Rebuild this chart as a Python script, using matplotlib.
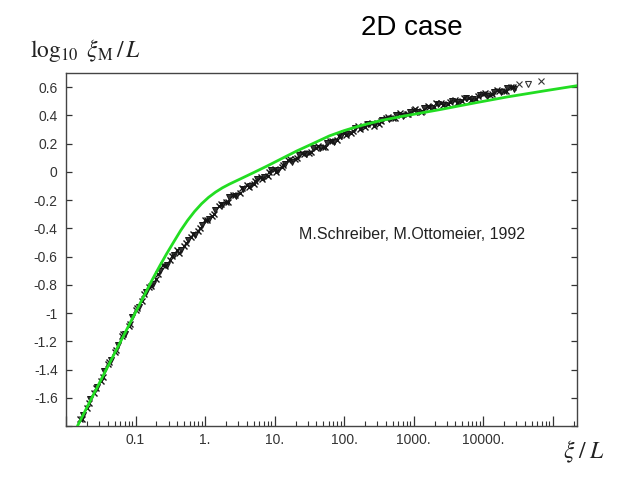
import numpy as np
import matplotlib
matplotlib.use("Agg")
import matplotlib.pyplot as plt
from matplotlib.ticker import FixedLocator, FixedFormatter, NullFormatter

# ---- data ----
# scatter series 1 ('x' markers): log10(xi/L) and log10(xi_M/L)
s1_log = [-1.8, -1.7, -1.6, -1.5, -1.4, -1.3, -1.2, -1.1, -1.0, -0.9, -0.8, -0.7, -0.6, -0.5,
          -0.4, -0.3, -0.2, -0.1, 0.0, 0.1, 0.2, 0.3, 0.4, 0.5, 0.6, 0.7, 0.8, 0.9, 1.0, 1.1,
          1.2, 1.3, 1.4, 1.5, 1.6, 1.7, 1.8, 1.9, 2.0, 2.1, 2.2, 2.3, 2.4, 2.5, 2.6, 2.7, 2.8,
          2.9, 3.0, 3.1, 3.2, 3.3, 3.4, 3.5, 3.6, 3.7, 3.8, 3.9, 4.0, 4.1, 4.2, 4.3, 4.4]
s1_y = [-1.748, -1.675, -1.564, -1.484, -1.36, -1.279, -1.166, -1.093, -0.978, -0.915, -0.814,
        -0.759, -0.66, -0.624, -0.556, -0.528, -0.458, -0.42, -0.344, -0.314, -0.24, -0.214,
        -0.161, -0.148, -0.093, -0.085, -0.039, -0.029, 0.02, 0.031, 0.084, 0.092, 0.132, 0.135,
        0.171, 0.176, 0.22, 0.226, 0.274, 0.277, 0.322, 0.315, 0.346, 0.341, 0.38, 0.381, 0.414,
        0.407, 0.436, 0.426, 0.465, 0.461, 0.489, 0.482, 0.512, 0.50, 0.526, 0.516, 0.55, 0.546,
        0.579, 0.572, 0.602]
# scatter series 2 (triangle markers)
s2_log = [-1.75, -1.65, -1.55, -1.45, -1.35, -1.25, -1.15, -1.05, -0.95, -0.85, -0.75, -0.65,
          -0.55, -0.45, -0.35, -0.25, -0.15, -0.05, 0.05, 0.15, 0.25, 0.35, 0.45, 0.55, 0.65,
          0.75, 0.85, 0.95, 1.05, 1.15, 1.25, 1.35, 1.45, 1.55, 1.65, 1.75, 1.85, 1.95, 2.05,
          2.15, 2.25, 2.35, 2.45, 2.55, 2.65, 2.75, 2.85, 2.95, 3.05, 3.15, 3.25, 3.35, 3.45,
          3.55, 3.65, 3.75, 3.85, 3.95, 4.05, 4.15, 4.25, 4.35, 4.45]
s2_y = [-1.725, -1.61, -1.526, -1.408, -1.333, -1.224, -1.145, -1.03, -0.954, -0.851, -0.793,
        -0.704, -0.657, -0.587, -0.551, -0.483, -0.45, -0.376, -0.337, -0.267, -0.236, -0.18,
        -0.168, -0.118, -0.102, -0.052, -0.036, 0.01, 0.013, 0.057, 0.073, 0.118, 0.127, 0.167,
        0.168, 0.204, 0.208, 0.253, 0.267, 0.31, 0.308, 0.337, 0.336, 0.37, 0.372, 0.405, 0.398,
        0.427, 0.423, 0.455, 0.454, 0.482, 0.473, 0.50, 0.493, 0.523, 0.519, 0.547, 0.535, 0.566,
        0.567, 0.597, 0.586]
# scatter series 3 ('x' markers, in between)
s3_log = [-1.775, -1.675, -1.575, -1.475, -1.375, -1.275, -1.175, -1.075, -0.975, -0.875,
          -0.775, -0.675, -0.575, -0.475, -0.375, -0.275, -0.175, -0.075, 0.025, 0.125, 0.225,
          0.325, 0.425, 0.525, 0.625, 0.725, 0.825, 0.925, 1.025, 1.125, 1.225, 1.325, 1.425,
          1.525, 1.625, 1.725, 1.825, 1.925, 2.025, 2.125, 2.225, 2.325, 2.425, 2.525, 2.625,
          2.725, 2.825, 2.925, 3.025, 3.125, 3.225, 3.325, 3.425, 3.525, 3.625, 3.725, 3.825,
          3.925, 4.025, 4.125, 4.225, 4.325, 4.425]
s3_y = [-1.752, -1.637, -1.529, -1.451, -1.346, -1.263, -1.146, -1.077, -0.965, -0.868, -0.807,
        -0.726, -0.67, -0.598, -0.574, -0.504, -0.439, -0.401, -0.338, -0.30, -0.23, -0.217,
        -0.162, -0.115, -0.104, -0.068, -0.05, 0.001, 0.0, 0.048, 0.094, 0.099, 0.126, 0.138,
        0.181, 0.179, 0.219, 0.254, 0.26, 0.291, 0.302, 0.339, 0.328, 0.363, 0.39, 0.383, 0.404,
        0.407, 0.443, 0.428, 0.462, 0.484, 0.473, 0.493, 0.491, 0.523, 0.507, 0.537, 0.559,
        0.548, 0.569, 0.571, 0.604]
# sparse last points
tail_x_log = [4.52, 4.83]
tail_x_y = [0.62, 0.64]
tail_v_log = [4.65]
tail_v_y = [0.62]

# green fit curve
fit_log = [-1.835, -1.4, -1.0, -0.755, -0.65, -0.55, -0.45, -0.35, -0.25, -0.15, -0.05, 0.05,
           0.15, 0.25, 0.35, 0.5, 0.7, 0.9, 1.1, 1.32, 1.55, 1.79, 2.0, 2.22, 2.5, 2.8, 3.37,
           3.9, 4.34, 4.9, 5.35]
fit_y = [-1.80, -1.38, -0.995, -0.76, -0.665, -0.578, -0.496, -0.415, -0.343, -0.28, -0.226,
         -0.181, -0.144, -0.113, -0.087, -0.052, -0.005, 0.043, 0.093, 0.148, 0.20, 0.255, 0.292,
         0.325, 0.36, 0.39, 0.44, 0.49, 0.53, 0.575, 0.61]

xmajor = [0.01, 0.1, 1, 10, 100, 1000, 10000, 100000]
xmajor_labels = ['', '0.1', '1.', '10.', '100.', '1000.', '10000.', '']
yticks = [0.6, 0.4, 0.2, 0.0, -0.2, -0.4, -0.6, -0.8, -1.0, -1.2, -1.4, -1.6, -1.8]
ytick_labels = ['0.6', '0.4', '0.2', '0', '-0.2', '-0.4', '-0.6', '-0.8', '-1', '-1.2', '-1.4',
                '-1.6', '']

plt.rcParams['font.family'] = ['Liberation Sans', 'DejaVu Sans']
plt.rcParams['mathtext.fontset'] = 'stix'

fig = plt.figure(figsize=(6.4, 4.8), dpi=100)
ax = fig.add_axes([66 / 640, 1 - 426 / 480, (577 - 66) / 640, (426 - 73) / 480])

ax.set_xscale('log')
ax.set_xlim(10 ** -2.0, 10 ** 5.35)
ax.set_ylim(-1.8, 0.7)

ink = '#333333'
dot = '#151515'
ax.plot(np.power(10.0, s1_log), s1_y, linestyle='none', marker='x', ms=4.5, mew=1.0, color=dot)
ax.plot(np.power(10.0, s2_log), s2_y, linestyle='none', marker='v', ms=4, mew=0.7,
        color=dot, mfc='#333333')
ax.plot(np.power(10.0, s3_log), s3_y, linestyle='none', marker='x', ms=4, mew=1.0, color=dot)
ax.plot(np.power(10.0, tail_x_log), tail_x_y, linestyle='none', marker='x', ms=5, mew=0.8,
        color='#333333')
ax.plot(np.power(10.0, tail_v_log), tail_v_y, linestyle='none', marker='v', ms=4, mew=0.8,
        color='#333333', mfc='none')
ax.plot(np.power(10.0, fit_log), fit_y, color='#22dd22', lw=2.0, solid_capstyle='round',
        solid_joinstyle='round', zorder=5)

# ticks
ax.xaxis.set_major_locator(FixedLocator(xmajor))
ax.xaxis.set_major_formatter(FixedFormatter(xmajor_labels))
minors = [m * 10.0 ** e for e in range(-2, 6) for m in range(2, 10)]
ax.xaxis.set_minor_locator(FixedLocator(minors))
ax.xaxis.set_minor_formatter(NullFormatter())
ax.yaxis.set_major_locator(FixedLocator(yticks))
ax.yaxis.set_major_formatter(FixedFormatter(ytick_labels))

ax.tick_params(axis='x', which='major', direction='in', length=7, width=0.9, color=ink,
               labelsize=10, labelcolor=ink, pad=5, top=False)
ax.tick_params(axis='x', which='minor', direction='in', length=3.5, width=0.8, color=ink, top=False)
ax.tick_params(axis='y', which='major', direction='in', length=4, width=0.9, color=ink,
               labelsize=10, labelcolor=ink, pad=6, right=True)
for s in ax.spines.values():
    s.set_color('#444444')
    s.set_linewidth(1.0)

# texts
fig.text(412 / 640, 1 - 28 / 480, '2D case', ha='center', va='center', fontsize=20, color='black')
fig.text(412 / 640, 1 - 234 / 480, 'M.Schreiber, M.Ottomeier, 1992', ha='center', va='center',
         fontsize=11.5, color='#222222')
fig.text(30 / 640, 1 - 50 / 480, r'$\log_{10}\ \xi_{\mathrm{M}}\,/\,L$', ha='left', va='center',
         fontsize=17, color='#222222')
fig.text(584 / 640, 1 - 452 / 480, r'$\xi\;/\;L$', ha='center', va='center', fontsize=17,
         color='#222222')

fig.savefig('out.png', dpi=100, facecolor='white')
